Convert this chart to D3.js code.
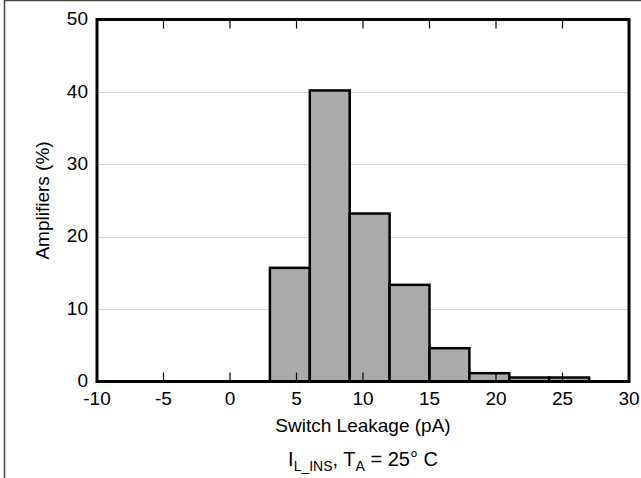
<!DOCTYPE html>
<html>
<head>
<meta charset="UTF-8">
<title>Switch Leakage histogram</title>
<script src="https://cdn.jsdelivr.net/npm/d3@7"></script>
<style>
  body { margin: 0; background: #fff; }
  text { font-family: "Liberation Sans", Arial, sans-serif; fill: #000; }
  .grid line { stroke: #d4d4d4; stroke-width: 1; }
  .bar { fill: #aaaaaa; stroke: #000; stroke-width: 2.5; }
</style>
</head>
<body>
<div id="graphe"></div>
<script>
  // bins of 3 pA, % of amplifiers
  var binStart = [3, 6, 9, 12, 15, 18, 21, 24];
  var binEnd = [6, 9, 12, 15, 18, 21, 24, 27];
  var percent = [15.7, 40.2, 23.2, 13.35, 4.6, 1.15, 0.55, 0.55];
  var xTicks = [-10, -5, 0, 5, 10, 15, 20, 25, 30];
  var yTicks = [0, 10, 20, 30, 40, 50];

  var width = 641, height = 478;
  var margin = { top: 19.5, right: 12, bottom: 96.5, left: 97 };
  var fs = 19;

  var svg = d3.select("#graphe").append("svg")
    .attr("width", width)
    .attr("height", height);

  // cadre exterieur
  svg.append("rect")
    .attr("x", 4.5).attr("y", 0.5)
    .attr("width", width + 10).attr("height", height + 10)
    .attr("fill", "none").attr("stroke", "#444").attr("stroke-width", 1.5);

  var x = d3.scaleLinear().domain([-10, 30]).range([margin.left, width - margin.right]);
  var y = d3.scaleLinear().domain([0, 50]).range([height - margin.bottom, margin.top]);

  // grille
  svg.append("g").attr("class", "grid")
    .selectAll("line")
    .data(yTicks.filter(function(d) { return d > 0 && d < 50; }))
    .enter().append("line")
    .attr("x1", x(-10)).attr("x2", x(30))
    .attr("y1", function(d) { return Math.round(y(d)) + 0.5; })
    .attr("y2", function(d) { return Math.round(y(d)) + 0.5; });

  // barres
  svg.append("g").selectAll(".bar")
    .data(percent)
    .enter().append("rect")
    .attr("class", "bar")
    .attr("x", function(d, i) { return x(binStart[i]); })
    .attr("width", function(d, i) { return x(binEnd[i]) - x(binStart[i]); })
    .attr("y", function(d) { return y(d); })
    .attr("height", function(d) { return y(0) - y(d); });

  // ticks interieurs haut et bas
  var tk = svg.append("g");
  tk.selectAll(".tb").data(xTicks.slice(1, -1)).enter().append("line")
    .attr("x1", function(d) { return x(d); }).attr("x2", function(d) { return x(d); })
    .attr("y1", y(0)).attr("y2", y(0) - 9)
    .attr("stroke", "#000").attr("stroke-width", 1.2);
  tk.selectAll(".tt").data(xTicks.slice(1, -1)).enter().append("line")
    .attr("x1", function(d) { return x(d); }).attr("x2", function(d) { return x(d); })
    .attr("y1", y(50)).attr("y2", y(50) + 9)
    .attr("stroke", "#000").attr("stroke-width", 1.2);

  // cadre du graphe
  svg.append("rect")
    .attr("x", x(-10)).attr("y", y(50))
    .attr("width", x(30) - x(-10)).attr("height", y(0) - y(50))
    .attr("fill", "none").attr("stroke", "#000").attr("stroke-width", 3);

  // labels des axes
  svg.append("g").selectAll("text")
    .data(xTicks).enter().append("text")
    .attr("x", function(d) { return x(d); })
    .attr("y", y(0) + 23)
    .attr("text-anchor", "middle")
    .style("font-size", fs + "px")
    .text(function(d) { return d; });

  svg.append("g").selectAll("text")
    .data(yTicks).enter().append("text")
    .attr("x", x(-10) - 9)
    .attr("y", function(d) { return y(d) - 1; })
    .attr("dy", "0.35em")
    .attr("text-anchor", "end")
    .style("font-size", fs + "px")
    .text(function(d) { return d; });

  svg.append("text")
    .attr("transform", "translate(49," + ((y(0) + y(50)) / 2) + ") rotate(-90)")
    .attr("text-anchor", "middle")
    .style("font-size", fs + "px")
    .text("Amplifiers (%)");

  svg.append("text")
    .attr("x", (x(-10) + x(30)) / 2)
    .attr("y", 432)
    .attr("text-anchor", "middle")
    .style("font-size", fs + "px")
    .text("Switch Leakage (pA)");

  var sub = svg.append("text")
    .attr("x", (x(-10) + x(30)) / 2)
    .attr("y", 466)
    .attr("text-anchor", "middle")
    .style("font-size", "20px");
  sub.append("tspan").text("I");
  sub.append("tspan").attr("dy", 5).style("font-size", "14px").text("L_INS");
  sub.append("tspan").attr("dy", -5).text(", T");
  sub.append("tspan").attr("dy", 5).style("font-size", "14px").text("A");
  sub.append("tspan").attr("dy", -5).text(" = 25° C");
</script>
</body>
</html>
